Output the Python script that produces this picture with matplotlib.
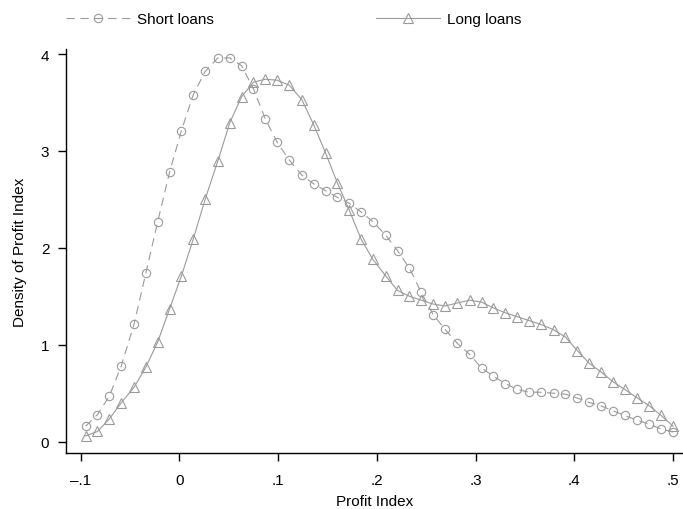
import matplotlib
matplotlib.use("Agg")
import matplotlib.pyplot as plt

plt.rcParams['font.family'] = ['Liberation Sans', 'DejaVu Sans']

# kdensity evaluation grid (shared by both series)
profit_index = [-0.095, -0.083, -0.071, -0.059, -0.046, -0.034, -0.022, -0.010, 0.002, 0.014,
                0.026, 0.039, 0.051, 0.063, 0.075, 0.087, 0.099, 0.111, 0.124, 0.136,
                0.148, 0.160, 0.172, 0.184, 0.196, 0.209, 0.221, 0.233, 0.245, 0.257,
                0.269, 0.281, 0.294, 0.306, 0.318, 0.330, 0.342, 0.354, 0.366, 0.379,
                0.391, 0.403, 0.415, 0.427, 0.439, 0.451, 0.464, 0.476, 0.488, 0.500]

short_loans = [0.16, 0.28, 0.47, 0.78, 1.21, 1.74, 2.27, 2.78, 3.21, 3.58,
               3.82, 3.96, 3.96, 3.88, 3.64, 3.33, 3.09, 2.91, 2.75, 2.66,
               2.59, 2.52, 2.46, 2.37, 2.27, 2.13, 1.97, 1.79, 1.54, 1.31,
               1.16, 1.02, 0.90, 0.76, 0.675, 0.60, 0.54, 0.51, 0.51, 0.50,
               0.49, 0.45, 0.405, 0.37, 0.32, 0.27, 0.22, 0.18, 0.13, 0.10]

long_loans = [0.06, 0.105, 0.235, 0.40, 0.56, 0.77, 1.03, 1.37, 1.71, 2.09,
              2.50, 2.90, 3.29, 3.56, 3.71, 3.74, 3.73, 3.68, 3.53, 3.27,
              2.98, 2.67, 2.39, 2.09, 1.88, 1.71, 1.56, 1.50, 1.46, 1.42,
              1.40, 1.43, 1.46, 1.44, 1.38, 1.33, 1.29, 1.25, 1.21, 1.155,
              1.08, 0.94, 0.81, 0.72, 0.62, 0.54, 0.45, 0.37, 0.27, 0.16]

x_ticks = [-0.1, 0, 0.1, 0.2, 0.3, 0.4, 0.5]
x_tick_labels = ['\u2013.1', '0', '.1', '.2', '.3', '.4', '.5']
y_ticks = [0, 1, 2, 3, 4]

gray = '#9a9a9a'
lw = 0.8
fs = 11

fig = plt.figure(figsize=(6.83, 5.10), dpi=100)
ax = fig.add_axes([66 / 683, 1 - 454 / 510, 1 - 66 / 683, (454 - 50) / 510])

ax.plot(profit_index, short_loans, color=gray, lw=lw, linestyle=(0, (7.5, 5)),
        marker='o', markersize=6, markerfacecolor='none', markeredgecolor=gray,
        markeredgewidth=0.8, label='Short loans')
ax.plot(profit_index, long_loans, color=gray, lw=lw, linestyle='-',
        marker='^', markersize=6.5, markerfacecolor='none', markeredgecolor=gray,
        markeredgewidth=0.8, label='Long loans')

ax.set_xlim(-0.1149, 0.5101)
ax.set_ylim(-0.117, 4.052)

ax.spines['top'].set_visible(False)
ax.spines['right'].set_visible(False)
ax.spines['left'].set_linewidth(1.0)
ax.spines['bottom'].set_linewidth(1.0)

ax.set_xticks(x_ticks)
ax.set_xticklabels(x_tick_labels)
ax.set_yticks(y_ticks)
ax.tick_params(axis='both', direction='out', length=6, width=1.0, labelsize=fs, pad=6)
ax.tick_params(axis='x', pad=8.5)

ax.set_xlabel('Profit Index', fontsize=fs, labelpad=5)
ax.set_ylabel('Density of Profit Index', fontsize=fs, labelpad=10)

fig.legend(loc='center left', bbox_to_anchor=(66 / 683, 1 - 20 / 510), ncol=2,
           frameon=False, fontsize=fs, handlelength=4.2, handletextpad=0.45,
           columnspacing=10.6, numpoints=1, borderaxespad=0, borderpad=0)

fig.savefig('out.png', dpi=100)
